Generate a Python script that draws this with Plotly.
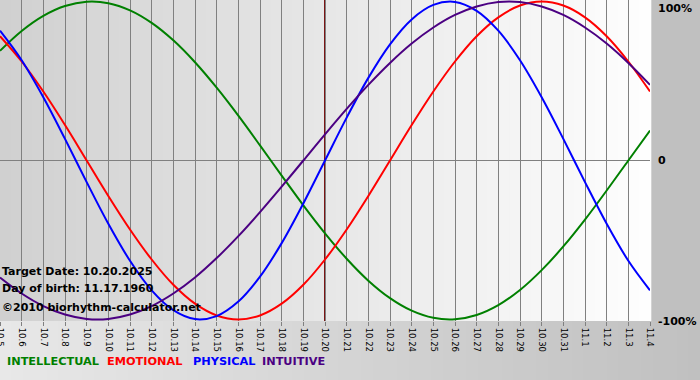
import plotly.graph_objects as go

# ---- data ----
dates = ["10.5", "10.6", "10.7", "10.8", "10.9", "10.10", "10.11", "10.12", "10.13", "10.14",
         "10.15", "10.16", "10.17", "10.18", "10.19", "10.20", "10.21", "10.22", "10.23", "10.24",
         "10.25", "10.26", "10.27", "10.28", "10.29", "10.30", "10.31", "11.1", "11.2", "11.3", "11.4"]

intellectual = [0.690, 0.815, 0.910, 0.972, 0.999, 0.990, 0.945, 0.866, 0.756, 0.618,
                0.458, 0.282, 0.095, -0.095, -0.282, -0.458, -0.618, -0.756, -0.866, -0.945,
                -0.990, -0.999, -0.972, -0.910, -0.815, -0.690, -0.541, -0.372, -0.189, 0.000, 0.189]

emotional = [0.782, 0.623, 0.434, 0.223, 0.000, -0.223, -0.434, -0.623, -0.782, -0.901,
             -0.975, -1.000, -0.975, -0.901, -0.782, -0.623, -0.434, -0.223, 0.000, 0.223,
             0.434, 0.623, 0.782, 0.901, 0.975, 1.000, 0.975, 0.901, 0.782, 0.623, 0.434]

physical = [0.817, 0.631, 0.398, 0.136, -0.136, -0.398, -0.631, -0.817, -0.942, -0.998,
            -0.979, -0.888, -0.731, -0.520, -0.270, 0.000, 0.270, 0.520, 0.731, 0.888,
            0.979, 0.998, 0.942, 0.817, 0.631, 0.398, 0.136, -0.136, -0.398, -0.631, -0.817]

intuitive = [-0.736, -0.837, -0.916, -0.969, -0.997, -0.997, -0.969, -0.916, -0.837, -0.736,
             -0.614, -0.476, -0.325, -0.165, 0.000, 0.165, 0.325, 0.476, 0.614, 0.736,
             0.837, 0.916, 0.969, 0.997, 0.997, 0.969, 0.916, 0.837, 0.736, 0.614, 0.476]

target_label = "10.20"
y_labels = ["100%", "0", "-100%"]

series = [
    ("INTELLECTUAL", intellectual, "#008000"),
    ("EMOTIONAL", emotional, "#ff0000"),
    ("PHYSICAL", physical, "#0000ff"),
    ("INTUITIVE", intuitive, "#4b0082"),
]

xs = list(range(len(dates)))
W, H = 700, 380
L, R, T, B = 0, 50, 0, 59
PW, PH = W - L - R, H - T - B

fig = go.Figure()
for name, vals, col in series:
    fig.add_trace(go.Scatter(x=xs, y=vals, mode="lines", name=name,
                             line=dict(color=col, width=2, shape="spline", smoothing=1),
                             hoverinfo="skip"))


def lerp(c1, c2, t):
    return "rgb(%d,%d,%d)" % tuple(round(a + (b - a) * t) for a, b in zip(c1, c2))


shapes = []
# plot-area gradient (left grey to right white)
N = 60
for i in range(N):
    shapes.append(dict(type="rect", xref="paper", yref="paper",
                       x0=i / N, x1=(i + 1) / N + 0.002, y0=0, y1=1,
                       fillcolor=lerp((208, 208, 208), (254, 254, 254), (i + 0.5) / N),
                       line=dict(width=0), layer="below"))
# bottom band gradient
xmax = W / PW
for i in range(N):
    shapes.append(dict(type="rect", xref="paper", yref="paper",
                       x0=xmax * i / N, x1=xmax * (i + 1) / N + 0.002,
                       y0=-B / PH, y1=0,
                       fillcolor=lerp((232, 232, 232), (192, 192, 192), (i + 0.5) / N),
                       line=dict(width=0), layer="below"))
# target day line
ti = dates.index(target_label)
shapes.append(dict(type="line", xref="x", yref="paper", x0=ti, x1=ti, y0=0, y1=1,
                   line=dict(color="#7a1414", width=2), layer="between"))

fig.update_layout(shapes=shapes)

font_b = "DejaVu Sans"
ann = []
info = [("Target Date: 10.20.2025", 271), ("Day of birth: 11.17.1960", 288),
        ("\u00a92010 biorhythm-calculator.net", 307)]
for txt, ypx in info:
    ann.append(dict(text="<b>%s</b>" % txt, xref="paper", yref="paper",
                    x=0 / PW, y=(PH - ypx) / PH, xanchor="left", yanchor="middle",
                    showarrow=False, font=dict(family=font_b, size=11, color="#000000")))

legend_x = [5, 105, 191, 260]
for (n, _, c), lx in zip(series, legend_x):
    ann.append(dict(text="<b>%s</b>" % n, xref="paper", yref="paper", x=lx / PW,
                    y=(PH - 361) / PH, xanchor="left", yanchor="middle", showarrow=False,
                    font=dict(family=font_b, size=11.3, color=c)))

for lab, ypx in zip(y_labels, [8, 161, 322]):
    ann.append(dict(text="<b>%s</b>" % lab, xref="paper", yref="paper", x=656 / PW,
                    y=(PH - ypx) / PH, xanchor="left", yanchor="middle", showarrow=False,
                    font=dict(family=font_b, size=11, color="#000000")))

fig.update_layout(
    width=W, height=H, margin=dict(l=L, r=R, t=T, b=B, autoexpand=False),
    paper_bgcolor="#c0c0c0", plot_bgcolor="rgba(0,0,0,0)",
    showlegend=False, annotations=ann,
    xaxis=dict(range=[0, len(dates) - 1], tickvals=xs, ticktext=dates, tickangle=90,
               showgrid=True, gridcolor="#808080", gridwidth=1, automargin=False,
               ticks="outside", ticklen=4, tickcolor="#808080", tickwidth=1,
               ticklabeloverflow="allow",
               tickfont=dict(family="DejaVu Sans", size=8.5, color="#000000"),
               zeroline=False, showline=False, fixedrange=True),
    yaxis=dict(range=[-1.01, 1.01], tickvals=[0], showticklabels=False, showgrid=True,
               gridcolor="#808080", gridwidth=1, zeroline=False, showline=False,
               fixedrange=True, automargin=False),
)

fig.write_html("out.html", config={"displayModeBar": False},
               post_script="document.body.style.margin='0';")
